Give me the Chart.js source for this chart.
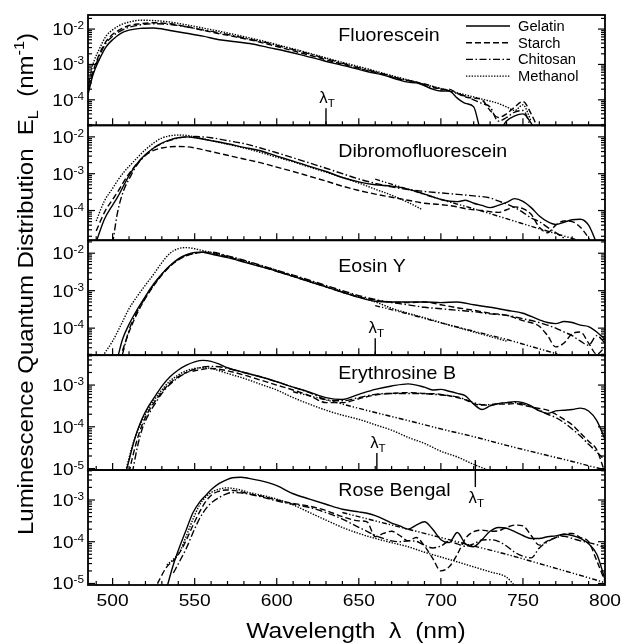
<!DOCTYPE html>
<html><head><meta charset="utf-8">
<script src="https://cdn.jsdelivr.net/npm/chart.js@4.4.1/dist/chart.umd.min.js"></script>
<style>html,body{margin:0;padding:0;background:#fff}canvas{display:block}</style>
</head><body>
<canvas id="c" width="622" height="643"></canvas>
<script>
// ---------- DATA : [wavelength nm, E_L nm^-1] ----------
const PANEL_NAMES = ['Fluorescein','Dibromofluorescein','Eosin Y','Erythrosine B','Rose Bengal'];
const SERIES_NAMES = ['Gelatin','Starch','Chitosan','Methanol'];
const X_TICKS = [500,550,600,650,700,750,800];
const Y_EXPONENTS = [[-2,-3,-4],[-2,-3,-4],[-2,-3,-4],[-3,-4,-5],[-3,-4,-5]];
const Y_MIN = [1.9e-5, 1.56e-5, 1.9e-5, 9.2e-6, 9.2e-6];
const Y_MAX = [2.5e-2, 2.06e-2, 2.22e-2, 5.2e-3, 5.2e-3];
const LAMBDA_T_PANEL = [0, 2, 3, 4];
const LAMBDA_T_WL = [630, 660, 661, 721];

const FLUO_GELATIN = [[485,1.41e-4],[488,5.0e-4],[492,1.41e-3],[496,3.16e-3],[500,5.0e-3],[505,7.6e-3],[510,9.3e-3],[517,1.05e-2],[525,1.07e-2],[535,9.1e-3],[545,7.6e-3],[555,6.3e-3],[565,5.0e-3],[575,4.4e-3],[585,3.8e-3],[595,3.0e-3],[605,2.4e-3],[615,1.86e-3],[625,1.41e-3],[635,1.07e-3],[645,8.3e-4],[655,6.3e-4],[665,5.0e-4],[675,3.6e-4],[680,3.16e-4],[685,3.0e-4],[690,2.5e-4],[695,2.0e-4],[700,1.78e-4],[705,1.78e-4],[710,1.12e-4],[715,7.9e-5],[720,6.3e-5],[725,1.26e-5],[735,1.26e-5],[740,2.5e-5],[745,3.5e-5],[750,4.0e-5],[755,2.2e-5],[758,1.26e-5]];
const FLUO_STARCH = [[485,2.5e-4],[488,6.3e-4],[492,2.0e-3],[496,4.5e-3],[500,7.1e-3],[505,1.0e-2],[510,1.26e-2],[517,1.41e-2],[525,1.51e-2],[535,1.41e-2],[545,1.17e-2],[555,9.3e-3],[565,7.4e-3],[575,6.0e-3],[585,4.8e-3],[595,3.7e-3],[605,2.8e-3],[615,2.1e-3],[625,1.58e-3],[635,1.17e-3],[645,8.9e-4],[655,6.8e-4],[665,5.2e-4],[675,3.8e-4],[680,3.5e-4],[685,3.16e-4],[690,2.8e-4],[695,2.4e-4],[700,1.9e-4],[705,2.0e-4],[710,1.51e-4],[715,1.2e-4],[720,1.12e-4],[725,1.0e-4],[730,5.0e-5],[735,3.16e-5],[740,4.0e-5],[745,6.3e-5],[750,9.0e-5],[755,4.0e-5],[760,1.26e-5]];
const FLUO_CHITOSAN = [[485,1.78e-4],[488,5.6e-4],[492,1.78e-3],[496,4.0e-3],[500,6.3e-3],[505,8.9e-3],[510,1.12e-2],[517,1.32e-2],[525,1.41e-2],[535,1.35e-2],[545,1.15e-2],[555,9.5e-3],[565,7.9e-3],[575,6.3e-3],[585,5.0e-3],[595,4.0e-3],[605,3.0e-3],[615,2.3e-3],[625,1.7e-3],[635,1.26e-3],[645,9.3e-4],[655,7.1e-4],[665,5.4e-4],[675,4.0e-4],[685,3.16e-4],[695,2.2e-4],[700,2.1e-4],[705,1.78e-4],[710,1.51e-4],[715,1.26e-4],[720,1.0e-4],[725,7.9e-5],[730,6.3e-5],[735,2.5e-5],[740,3.16e-5],[745,4.5e-5],[750,5.0e-5],[755,1.6e-5]];
const FLUO_METHANOL = [[485,2.5e-4],[488,1.0e-3],[492,2.8e-3],[496,6.3e-3],[500,9.5e-3],[505,1.32e-2],[510,1.58e-2],[517,1.78e-2],[525,1.74e-2],[535,1.58e-2],[545,1.32e-2],[555,1.07e-2],[565,8.7e-3],[575,6.9e-3],[585,5.4e-3],[595,4.2e-3],[605,3.16e-3],[615,2.4e-3],[625,1.78e-3],[635,1.32e-3],[645,1.0e-3],[655,7.6e-4],[665,5.6e-4],[675,4.2e-4],[685,3.16e-4],[695,2.4e-4],[705,1.82e-4],[715,1.38e-4],[725,1.05e-4],[735,7.9e-5],[740,6.3e-5],[745,5.0e-5],[750,7.2e-5],[755,2.5e-5]];

const DBF_GELATIN = [[490,1.41e-5],[495,5.8e-5],[500,1.41e-4],[503,2.3e-4],[507,5.0e-4],[510,8.9e-4],[515,1.9e-3],[520,3.3e-3],[525,5.0e-3],[530,6.8e-3],[535,8.3e-3],[540,9.5e-3],[545,1.0e-2],[550,9.5e-3],[560,7.9e-3],[570,6.5e-3],[580,5.2e-3],[590,4.2e-3],[600,3.0e-3],[610,2.2e-3],[620,1.58e-3],[630,1.15e-3],[640,7.9e-4],[650,6.0e-4],[660,5.0e-4],[670,4.6e-4],[680,3.8e-4],[690,2.8e-4],[700,2.0e-4],[710,1.74e-4],[715,1.9e-4],[720,1.58e-4],[725,1.38e-4],[730,1.2e-4],[735,1.38e-4],[740,1.66e-4],[745,2.1e-4],[750,1.78e-4],[755,1.2e-4],[760,7.1e-5],[765,5.0e-5],[770,4.2e-5],[775,4.8e-5],[780,5.6e-5],[785,5.8e-5],[790,4.0e-5],[795,1.26e-5]];
const DBF_STARCH = [[490,2.8e-5],[495,8.9e-5],[500,2.0e-4],[503,3.16e-4],[507,6.3e-4],[510,1.0e-3],[515,1.9e-3],[520,3.16e-3],[525,4.3e-3],[530,5.0e-3],[535,5.4e-3],[540,5.5e-3],[545,5.4e-3],[550,5.0e-3],[560,4.0e-3],[570,3.16e-3],[580,2.5e-3],[590,2.0e-3],[600,1.51e-3],[610,1.15e-3],[620,8.5e-4],[630,6.3e-4],[640,4.6e-4],[650,3.5e-4],[660,2.8e-4],[670,2.3e-4],[680,1.9e-4],[690,1.58e-4],[700,1.45e-4],[710,1.26e-4],[715,1.12e-4],[720,1.05e-4],[725,1.0e-4],[730,9.3e-5],[735,8.9e-5],[740,1.05e-4],[745,1.26e-4],[750,1.12e-4],[755,7.9e-5],[760,3.5e-5],[765,2.5e-5],[770,4.0e-5],[775,5.2e-5],[780,5.0e-5],[785,3.5e-5],[790,1.78e-5],[793,1.0e-5]];
const DBF_CHITOSAN = [[500,1.26e-5],[503,8.9e-5],[507,3.8e-4],[510,7.1e-4],[515,1.78e-3],[520,3.16e-3],[525,5.0e-3],[530,6.6e-3],[535,8.1e-3],[540,9.3e-3],[545,1.0e-2],[550,1.02e-2],[560,9.5e-3],[570,7.9e-3],[580,6.6e-3],[590,5.0e-3],[600,3.7e-3],[610,2.7e-3],[620,1.95e-3],[630,1.41e-3],[640,1.0e-3],[650,7.2e-4],[660,5.5e-4],[670,4.4e-4],[680,3.7e-4],[690,3.3e-4],[700,3.0e-4],[710,2.75e-4],[720,2.5e-4],[730,2.2e-4],[735,1.82e-4],[740,1.51e-4],[745,1.2e-4],[750,8.9e-5],[755,6.3e-5],[760,5.0e-5],[765,3.5e-5],[770,2.5e-5],[775,1.78e-5],[780,1.2e-5]];
const DBF_METHANOL = [[490,5.2e-5],[495,1.82e-4],[500,4.0e-4],[503,6.5e-4],[507,1.12e-3],[510,1.58e-3],[515,2.7e-3],[520,4.5e-3],[525,6.8e-3],[530,9.3e-3],[535,1.07e-2],[540,1.12e-2],[545,1.1e-2],[550,1.0e-2],[560,7.9e-3],[570,6.3e-3],[580,5.0e-3],[590,3.8e-3],[600,2.8e-3],[610,2.1e-3],[620,1.51e-3],[630,1.1e-3],[640,7.9e-4],[650,5.6e-4],[660,3.8e-4],[670,2.6e-4],[680,1.66e-4],[688,1.1e-4]];
const DBF_TAIL = [[660,7.1e-4],[680,3.8e-4],[700,2.0e-4],[720,1.12e-4],[740,6.0e-5],[760,3.2e-5],[780,1.74e-5],[790,1.26e-5]];

const EOSIN_GELATIN = [[503,1.58e-5],[506,5.0e-5],[510,1.26e-4],[515,3.16e-4],[520,7.1e-4],[525,1.51e-3],[530,2.8e-3],[535,4.7e-3],[540,7.1e-3],[545,9.1e-3],[550,1.05e-2],[555,1.07e-2],[560,9.5e-3],[570,7.6e-3],[580,5.8e-3],[590,4.4e-3],[600,3.3e-3],[610,2.4e-3],[620,1.74e-3],[630,1.26e-3],[640,9.1e-4],[650,6.6e-4],[660,5.2e-4],[670,5.0e-4],[680,5.0e-4],[690,5.0e-4],[700,4.8e-4],[710,5.0e-4],[720,4.2e-4],[730,3.6e-4],[740,3.0e-4],[750,2.5e-4],[760,1.66e-4],[765,1.41e-4],[770,1.32e-4],[775,1.51e-4],[780,1.41e-4],[785,1.2e-4],[790,1.1e-4],[795,7.9e-5],[800,5.0e-5]];
const EOSIN_STARCH = [[506,2.5e-5],[510,7.9e-5],[515,2.5e-4],[520,6.3e-4],[525,1.35e-3],[530,2.6e-3],[535,4.5e-3],[540,6.6e-3],[545,8.5e-3],[550,1.0e-2],[555,1.05e-2],[560,1.0e-2],[570,8.0e-3],[580,6.0e-3],[590,4.5e-3],[600,3.3e-3],[610,2.4e-3],[620,1.74e-3],[630,1.26e-3],[640,9.1e-4],[650,6.8e-4],[660,5.6e-4],[670,5.0e-4],[680,4.8e-4],[690,5.0e-4],[700,4.2e-4],[710,3.5e-4],[720,3.0e-4],[730,2.5e-4],[740,2.2e-4],[750,1.58e-4],[760,1.12e-4],[765,6.3e-5],[770,3.16e-5],[775,4.0e-5],[780,7.1e-5],[785,7.9e-5],[790,4.0e-5],[795,2.0e-5],[800,3.16e-5]];
const EOSIN_CHITOSAN = [[506,2.0e-5],[510,8.9e-5],[515,2.8e-4],[520,6.6e-4],[525,1.41e-3],[530,2.75e-3],[535,4.6e-3],[540,6.8e-3],[545,8.7e-3],[550,1.0e-2],[555,1.07e-2],[560,1.07e-2],[570,8.5e-3],[580,6.5e-3],[590,4.8e-3],[600,3.5e-3],[610,2.6e-3],[620,1.9e-3],[630,1.38e-3],[640,1.0e-3],[650,7.4e-4],[660,5.8e-4],[670,4.8e-4],[680,4.2e-4],[690,3.6e-4],[700,3.3e-4],[710,3.0e-4],[720,2.75e-4],[730,2.4e-4],[740,2.2e-4],[750,1.78e-4],[760,1.41e-4],[765,1.2e-4],[770,1.0e-4],[775,7.9e-5],[780,6.3e-5],[785,4.5e-5],[790,3.5e-5],[795,6.3e-5],[800,4.0e-5]];
const EOSIN_METHANOL = [[495,2.1e-5],[500,4.5e-5],[505,1.2e-4],[510,3.3e-4],[515,7.1e-4],[520,1.41e-3],[525,2.75e-3],[530,5.6e-3],[535,1.0e-2],[540,1.32e-2],[545,1.41e-2],[550,1.32e-2],[555,1.17e-2],[560,1.05e-2],[570,8.3e-3],[580,6.3e-3],[590,4.7e-3],[600,3.5e-3],[610,2.5e-3],[620,1.82e-3],[630,1.32e-3],[640,9.5e-4],[650,6.9e-4],[660,5.0e-4],[670,3.4e-4],[680,2.5e-4],[690,1.9e-4],[700,1.41e-4],[710,1.05e-4],[720,7.9e-5],[730,6.0e-5],[740,4.5e-5]];
const EOSIN_TAIL = [[660,4.0e-4],[680,2.4e-4],[700,1.38e-4],[720,8.3e-5],[740,5.0e-5],[760,2.8e-5],[770,2.1e-5],[780,1.58e-5]];

const ERY_GELATIN = [[508,7.9e-6],[510,1.58e-5],[512,3.2e-5],[515,7.9e-5],[518,1.58e-4],[522,3.16e-4],[527,6.3e-4],[531,1.05e-3],[535,1.58e-3],[540,2.3e-3],[545,3.0e-3],[550,3.6e-3],[555,3.9e-3],[560,3.7e-3],[565,3.16e-3],[570,2.6e-3],[580,2.0e-3],[590,1.58e-3],[600,1.2e-3],[610,8.9e-4],[620,6.8e-4],[630,5.0e-4],[640,4.5e-4],[650,6.0e-4],[660,7.9e-4],[670,9.5e-4],[680,1.07e-3],[690,8.9e-4],[695,7.6e-4],[700,7.9e-4],[705,7.1e-4],[710,6.3e-4],[715,5.5e-4],[720,3.5e-4],[725,2.6e-4],[730,3.16e-4],[735,3.6e-4],[740,3.8e-4],[745,4.0e-4],[750,3.8e-4],[755,3.16e-4],[760,2.4e-4],[765,2.1e-4],[770,2.4e-4],[775,2.5e-4],[780,2.6e-4],[785,2.8e-4],[790,2.4e-4],[795,1.41e-4],[800,5.0e-5]];
const ERY_STARCH = [[510,7.9e-6],[512,1.78e-5],[515,5.0e-5],[518,1.12e-4],[522,2.4e-4],[527,4.7e-4],[531,7.6e-4],[535,1.12e-3],[540,1.58e-3],[545,2.0e-3],[550,2.2e-3],[555,2.4e-3],[560,2.5e-3],[565,2.4e-3],[570,2.2e-3],[580,1.74e-3],[590,1.32e-3],[600,1.0e-3],[610,7.6e-4],[620,5.6e-4],[630,3.8e-4],[640,3.8e-4],[650,4.7e-4],[660,5.8e-4],[670,6.3e-4],[680,6.6e-4],[690,6.3e-4],[700,6.0e-4],[710,5.0e-4],[715,4.4e-4],[720,3.6e-4],[725,3.3e-4],[730,3.3e-4],[735,3.5e-4],[740,3.5e-4],[745,3.6e-4],[750,3.3e-4],[755,3.0e-4],[760,2.75e-4],[765,2.5e-4],[770,2.0e-4],[775,1.51e-4],[780,1.12e-4],[785,7.1e-5],[790,4.5e-5],[795,2.8e-5],[800,7.9e-6]];
const ERY_CHITOSAN = [[512,7.9e-6],[515,3.16e-5],[518,8.9e-5],[522,2.0e-4],[527,4.2e-4],[531,7.1e-4],[535,1.05e-3],[540,1.51e-3],[545,2.0e-3],[550,2.4e-3],[555,2.7e-3],[560,2.8e-3],[565,2.75e-3],[570,2.5e-3],[580,2.0e-3],[590,1.58e-3],[600,1.2e-3],[610,8.9e-4],[620,6.6e-4],[630,4.5e-4],[640,4.2e-4],[650,5.0e-4],[660,6.0e-4],[670,6.3e-4],[680,6.3e-4],[690,6.2e-4],[700,5.8e-4],[710,5.2e-4],[715,4.5e-4],[720,3.8e-4],[725,3.4e-4],[730,3.4e-4],[735,3.6e-4],[740,3.8e-4],[745,3.8e-4],[750,3.5e-4],[755,3.0e-4],[760,2.5e-4],[765,2.0e-4],[770,1.66e-4],[775,1.26e-4],[780,8.9e-5],[785,6.0e-5],[790,3.8e-5],[795,2.5e-5],[800,1.58e-5]];
const ERY_METHANOL = [[508,8.9e-6],[510,1.78e-5],[512,3.5e-5],[515,7.6e-5],[518,1.41e-4],[522,2.8e-4],[527,5.4e-4],[531,8.5e-4],[535,1.26e-3],[540,1.74e-3],[545,2.2e-3],[550,2.5e-3],[555,2.6e-3],[560,2.5e-3],[565,2.2e-3],[570,1.9e-3],[580,1.45e-3],[590,1.05e-3],[600,7.6e-4],[610,5.0e-4],[620,3.5e-4],[630,2.5e-4],[640,1.9e-4],[650,1.51e-4],[660,1.12e-4],[670,8.3e-5],[680,5.6e-5],[690,4.0e-5],[700,2.6e-5],[710,1.9e-5],[720,1.26e-5],[730,8.9e-6]];
const ERY_TAIL = [[610,6.9e-4],[620,5.5e-4],[640,3.5e-4],[660,2.2e-4],[680,1.41e-4],[700,8.9e-5],[720,5.8e-5],[740,3.6e-5],[760,2.3e-5],[780,1.48e-5],[800,9.3e-6]];

const RB_GELATIN = [[533,7.9e-6],[537,2.8e-5],[541,7.9e-5],[545,2.0e-4],[549,5.0e-4],[553,8.9e-4],[557,1.32e-3],[561,1.9e-3],[565,2.5e-3],[569,3.0e-3],[573,3.4e-3],[578,3.5e-3],[583,3.3e-3],[590,2.9e-3],[600,2.2e-3],[610,1.41e-3],[620,1.05e-3],[630,7.9e-4],[640,6.0e-4],[650,5.2e-4],[655,4.8e-4],[660,4.2e-4],[665,3.5e-4],[670,2.8e-4],[675,2.4e-4],[680,2.0e-4],[685,2.5e-4],[690,3.0e-4],[695,2.0e-4],[700,1.12e-4],[705,9.5e-5],[710,1.66e-4],[715,8.9e-5],[720,7.6e-5],[725,1.12e-4],[730,1.78e-4],[735,2.2e-4],[740,2.1e-4],[745,1.74e-4],[750,1.41e-4],[755,1.2e-4],[760,1.2e-4],[765,1.32e-4],[770,1.38e-4],[775,1.51e-4],[780,1.41e-4],[785,1.2e-4],[790,8.9e-5],[795,5.0e-5],[800,1.26e-5]];
const RB_STARCH = [[525,6.3e-6],[528,1.12e-5],[533,2.5e-5],[537,3.5e-5],[541,5.6e-5],[545,1.12e-4],[549,2.5e-4],[553,5.2e-4],[557,9.5e-4],[561,1.38e-3],[565,1.62e-3],[569,1.74e-3],[573,1.7e-3],[578,1.58e-3],[583,1.41e-3],[590,1.26e-3],[600,1.0e-3],[610,8.3e-4],[620,7.1e-4],[630,5.6e-4],[640,4.0e-4],[650,3.16e-4],[655,3.0e-4],[660,1.32e-4],[665,1.58e-4],[670,1.78e-4],[675,1.41e-4],[680,1.05e-4],[685,1.26e-4],[690,7.9e-5],[695,4.0e-5],[700,2.0e-5],[705,2.5e-5],[710,5.0e-5],[715,1.2e-4],[720,1.74e-4],[725,1.9e-4],[730,1.78e-4],[735,1.82e-4],[740,2.2e-4],[745,2.5e-4],[750,2.4e-4],[755,1.41e-4],[760,8.3e-5],[765,1.05e-4],[770,1.26e-4],[775,1.51e-4],[780,1.58e-4],[785,1.26e-4],[790,1.0e-4],[795,3.5e-5],[800,1.12e-5]];
const RB_CHITOSAN = [[537,1.78e-5],[541,3.5e-5],[545,7.1e-5],[549,1.66e-4],[553,3.6e-4],[557,6.3e-4],[561,9.1e-4],[565,1.15e-3],[569,1.38e-3],[573,1.51e-3],[578,1.48e-3],[583,1.38e-3],[590,1.2e-3],[600,9.5e-4],[610,7.9e-4],[620,6.6e-4],[630,5.0e-4],[640,3.5e-4],[650,2.2e-4],[655,1.78e-4],[660,1.41e-4],[665,1.2e-4],[670,1.05e-4],[675,1.0e-4],[680,1.05e-4],[685,1.02e-4],[690,8.3e-5],[695,7.1e-5],[700,7.9e-5],[705,1.02e-4],[710,8.9e-5],[715,7.8e-5],[720,8.9e-5],[725,1.1e-4],[730,1.12e-4],[735,1.02e-4],[740,7.9e-5],[745,5.6e-5],[750,4.5e-5],[755,4.1e-5],[760,7.1e-5],[765,1.0e-4],[770,1.26e-4],[775,1.35e-4],[780,1.2e-4],[785,1.05e-4],[790,9.5e-5],[795,8.5e-5],[800,7.1e-5]];
const RB_METHANOL = [[533,2.8e-5],[537,3.8e-5],[541,5.9e-5],[545,1.41e-4],[549,3.5e-4],[553,7.6e-4],[557,1.2e-3],[561,1.58e-3],[565,1.82e-3],[569,1.95e-3],[573,1.9e-3],[578,1.74e-3],[583,1.51e-3],[590,1.32e-3],[600,1.05e-3],[610,7.6e-4],[620,5.0e-4],[630,3.3e-4],[640,2.2e-4],[650,1.58e-4],[660,1.2e-4],[670,9.5e-5],[680,7.6e-5],[690,5.6e-5],[700,4.3e-5],[710,3.3e-5],[720,2.5e-5],[730,1.9e-5],[740,1.41e-5],[745,8.9e-6]];
const RB_TAIL = [[640,5.0e-4],[660,3.16e-4],[680,2.0e-4],[700,1.26e-4],[720,7.9e-5],[740,5.0e-5],[760,3.0e-5],[780,1.78e-5],[800,1.05e-5]];

const PANEL_SERIES = [
  [FLUO_GELATIN, FLUO_STARCH, FLUO_CHITOSAN, FLUO_METHANOL, null],
  [DBF_GELATIN, DBF_STARCH, DBF_CHITOSAN, DBF_METHANOL, DBF_TAIL],
  [EOSIN_GELATIN, EOSIN_STARCH, EOSIN_CHITOSAN, EOSIN_METHANOL, EOSIN_TAIL],
  [ERY_GELATIN, ERY_STARCH, ERY_CHITOSAN, ERY_METHANOL, ERY_TAIL],
  [RB_GELATIN, RB_STARCH, RB_CHITOSAN, RB_METHANOL, RB_TAIL]
];

// ---------- STYLE ----------
const DASHES = [[], [6,3], [7,2.5,1.5,2.5], [1.4,1.4], [5,2,1.3,2,1.3,2]];
const PANEL_WEIGHT = [0.96, 1, 1, 1, 1];
const FONT = '"Liberation Sans", Arial, Helvetica, sans-serif';

const datasets = [];
PANEL_SERIES.forEach((row, p) => {
  row.forEach((ser, s) => {
    if (!ser) return;
    datasets.push({
      label: s < 4 ? PANEL_NAMES[p] + ' / ' + SERIES_NAMES[s] : PANEL_NAMES[p] + ' / tail',
      data: ser.map(([x, y]) => ({x, y})),
      xAxisID: 'x', yAxisID: 'y' + p,
      borderColor: '#000', borderWidth: 1.4, borderDash: DASHES[s],
      pointRadius: 0, fill: false, spanGaps: true,
      cubicInterpolationMode: 'monotone', clip: 0
    });
  });
});

const scales = {
  x: {type: 'linear', position: 'bottom', min: 485, max: 800,
      grid: {display: false, drawTicks: false}, border: {display: false},
      ticks: {display: false}, afterFit(s) { s.height = 58; }}
};
PANEL_NAMES.forEach((n, p) => {
  scales['y' + p] = {
    type: 'logarithmic', position: 'left', stack: 'panels',
    stackWeight: PANEL_WEIGHT[p], weight: 5 - p,
    min: Y_MIN[p], max: Y_MAX[p], offset: false,
    grid: {display: false, drawTicks: false}, border: {display: false},
    ticks: {display: false}, afterFit(s) { s.width = 58; }
  };
});

function setFont(ctx, size) { ctx.font = size + 'px ' + FONT; }
function rich(ctx, parts, x, y, sx, align) {
  let w = 0;
  parts.forEach(p => { setFont(ctx, p.size); p.w = ctx.measureText(p.t).width; w += p.w; });
  ctx.save();
  ctx.translate(x, y); ctx.scale(sx, 1);
  ctx.fillStyle = '#000'; ctx.textAlign = 'left'; ctx.textBaseline = 'alphabetic';
  let cx = align === 'center' ? -w / 2 : (align === 'right' ? -w : 0);
  parts.forEach(p => { setFont(ctx, p.size); ctx.fillText(p.t, cx, p.dy || 0); cx += p.w; });
  ctx.restore();
}
function line(ctx, x1, y1, x2, y2) { ctx.beginPath(); ctx.moveTo(x1, y1); ctx.lineTo(x2, y2); ctx.stroke(); }

const clipPlugin = {
  id: 'panelClip',
  beforeDatasetDraw(chart, args) {
    const ys = args.meta.yScale, ca = chart.chartArea, ctx = chart.ctx;
    ctx.save(); ctx.beginPath();
    ctx.rect(ca.left, ys.top, ca.right - ca.left, ys.bottom - ys.top); ctx.clip();
  },
  afterDatasetDraw(chart) { chart.ctx.restore(); }
};

const decorPlugin = {
  id: 'decor',
  afterDatasetsDraw(chart) {
    const ctx = chart.ctx, ca = chart.chartArea, xs = chart.scales.x;
    ctx.save();
    ctx.strokeStyle = '#000'; ctx.fillStyle = '#000';
    PANEL_NAMES.forEach((name, p) => {
      const ys = chart.scales['y' + p];
      ctx.lineWidth = 1.2;
      for (let v = 490; v <= 790; v += 10) {
        const px = xs.getPixelForValue(v);
        const len = X_TICKS.includes(v) ? 7 : 4;
        line(ctx, px, ys.bottom, px, ys.bottom - len);
      }
      const d0 = Math.floor(Math.log10(Y_MIN[p])), d1 = Math.ceil(Math.log10(Y_MAX[p]));
      for (let d = d0; d <= d1; d++) {
        for (let k = 1; k <= 9; k++) {
          const v = k * Math.pow(10, d);
          if (v < Y_MIN[p] || v > Y_MAX[p]) continue;
          const py = ys.getPixelForValue(v);
          const len = k === 1 ? 7 : 4;
          line(ctx, ca.left, py, ca.left + len, py);
          line(ctx, ca.right, py, ca.right - len, py);
        }
      }
      ctx.lineWidth = 1.8;
      ctx.strokeRect(ca.left, ys.top, ca.right - ca.left, ys.bottom - ys.top);
      Y_EXPONENTS[p].forEach(e => {
        const py = ys.getPixelForValue(Math.pow(10, e));
        rich(ctx, [{t: '10', size: 17}, {t: String(e), size: 10.5, dy: -6}], ca.left - 4, py + 6, 1.12, 'right');
      });
      const nameOff = [25.5, 31.5, 31.5, 24, 26][p];
      rich(ctx, [{t: name, size: 18.5}], xs.getPixelForValue(637.5), ys.top + nameOff, 1.06, 'left');
    });
    X_TICKS.forEach(v => rich(ctx, [{t: String(v), size: 17}], xs.getPixelForValue(v), ca.bottom + 21, 1.13, 'center'));
    const y0 = chart.scales.y0;
    ctx.lineWidth = 1.4;
    SERIES_NAMES.forEach((s, i) => {
      const ly = y0.top + 11 + i * 16.7;
      ctx.setLineDash(DASHES[i]);
      line(ctx, 466, ly, 510, ly);
      ctx.setLineDash([]);
      rich(ctx, [{t: s, size: 14}], 518, ly + 5, 1.05, 'left');
    });
    ctx.lineWidth = 1.4;
    LAMBDA_T_WL.forEach((wl, i) => {
      const p = LAMBDA_T_PANEL[i], ys = chart.scales['y' + p], px = xs.getPixelForValue(wl);
      const parts = [{t: 'λ', size: 16}, {t: 'T', size: 11, dy: 3.5}];
      if (p === 4) {
        line(ctx, px, ys.top - 10, px, ys.top + 17);
        rich(ctx, parts, px + 1, ys.top + 33, 1.05, 'center');
      } else {
        line(ctx, px, ys.bottom, px, ys.bottom - 17);
        rich(ctx, parts, px + 1, ys.bottom - 22, 1.05, 'center');
      }
    });
    rich(ctx, [{t: 'Wavelength  λ  (nm)', size: 22}], 356, 638, 1.12, 'center');
    ctx.save();
    ctx.translate(33, 284); ctx.rotate(-Math.PI / 2);
    rich(ctx, [{t: 'Luminescence Quantum Distribution  E', size: 22}, {t: 'L', size: 15, dy: 5},
               {t: '  (nm', size: 22}, {t: '-1', size: 15, dy: -9}, {t: ')', size: 22}], 0, 0, 1.09, 'center');
    ctx.restore();
    ctx.restore();
  }
};

new Chart(document.getElementById('c'), {
  type: 'line',
  data: {datasets},
  options: {
    responsive: false, animation: false, devicePixelRatio: 1, events: [],
    layout: {padding: {left: 30, right: 17, top: 15, bottom: 0}},
    plugins: {legend: {display: false}, tooltip: {enabled: false}},
    scales
  },
  plugins: [clipPlugin, decorPlugin]
});
</script>
</body></html>
